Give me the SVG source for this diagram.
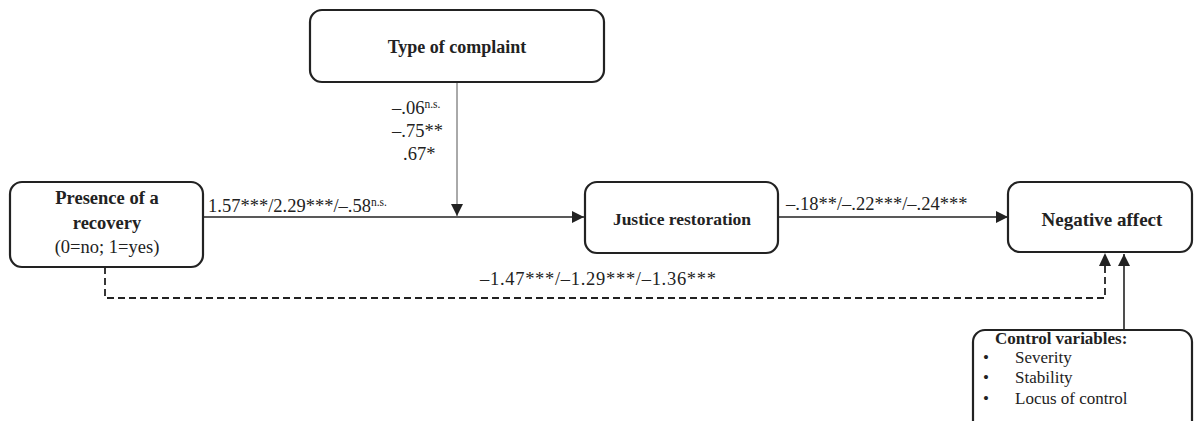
<svg xmlns="http://www.w3.org/2000/svg" width="1195" height="421" viewBox="0 0 1195 421">
<style>
.box{fill:#fff;stroke:#222;stroke-width:2.2}
.lbl{font-family:"Liberation Serif",serif;font-weight:bold;font-size:18px;fill:#222}
.num{font-family:"Liberation Serif",serif;font-size:18.5px;fill:#222}
.sup{font-size:11.5px}
.ln{stroke:#222;stroke-width:1.6;fill:none}
.dash{stroke:#222;stroke-width:1.8;fill:none;stroke-dasharray:7 4}
.cv{font-size:17px}
</style>
<defs>
<marker id="ah" markerWidth="12" markerHeight="12" refX="12" refY="6" orient="auto" markerUnits="userSpaceOnUse">
<path d="M0,0 L12,6 L0,12 Z" fill="#222"/>
</marker>
</defs>
<g id="connectors">
<line class="ln" x1="203" y1="217" x2="584" y2="217" marker-end="url(#ah)"/>
<line x1="457" y1="82" x2="457" y2="216" stroke="#555" stroke-width="1" marker-end="url(#ah)"/>
<line class="ln" x1="778" y1="217" x2="1008" y2="217" marker-end="url(#ah)"/>
<polyline class="dash" points="105,267 105,298 1105,298 1105,254"/>
<path d="M1099,266 L1105,253 L1111,266 Z" fill="#222"/>
<line class="ln" x1="1124" y1="330" x2="1124" y2="254" marker-end="url(#ah)"/>
<text class="num" x="208" y="212">1.57***/2.29***/–.58<tspan class="sup" dy="-6">n.s.</tspan></text>
<text class="num" x="786" y="210">–.18**/–.22***/–.24***</text>
<text class="num" x="598" y="285" text-anchor="middle" textLength="236">–1.47***/–1.29***/–1.36***</text>
<text class="num" x="392" y="114">–.06<tspan class="sup" dy="-6">n.s.</tspan></text>
<text class="num" x="392" y="137">–.75**</text>
<text class="num" x="403" y="160">.67*</text>
</g>
<g id="type">
<rect class="box" x="310" y="10" width="294" height="72" rx="12"/>
<text class="lbl" x="457" y="53" text-anchor="middle">Type of complaint</text>
</g>
<g id="presence">
<rect class="box" x="10" y="182" width="193" height="85" rx="12"/>
<text class="lbl" x="107" y="204" text-anchor="middle" style="font-size:18.5px">Presence of a</text>
<text class="lbl" x="107" y="229" text-anchor="middle" style="font-size:18.5px">recovery</text>
<text class="num" x="107" y="253" text-anchor="middle">(0=no; 1=yes)</text>
</g>
<g id="justice">
<rect class="box" x="585" y="182" width="193" height="71" rx="12"/>
<text class="lbl" x="682" y="225" text-anchor="middle" style="font-size:17.5px">Justice restoration</text>
</g>
<g id="negative">
<rect class="box" x="1008" y="182" width="184" height="70" rx="12"/>
<text class="lbl" x="1102" y="226" text-anchor="middle" style="font-size:19px">Negative affect</text>
</g>
<g id="control">
<rect class="box" x="973" y="330" width="219" height="110" rx="12"/>
<text class="lbl cv" x="995" y="344">Control variables:</text>
<text class="num cv" x="983" y="363">•</text>
<text class="num cv" x="1015" y="363">Severity</text>
<text class="num cv" x="983" y="383">•</text>
<text class="num cv" x="1015" y="383">Stability</text>
<text class="num cv" x="983" y="404">•</text>
<text class="num cv" x="1015" y="404">Locus of control</text>
</g>
</svg>
